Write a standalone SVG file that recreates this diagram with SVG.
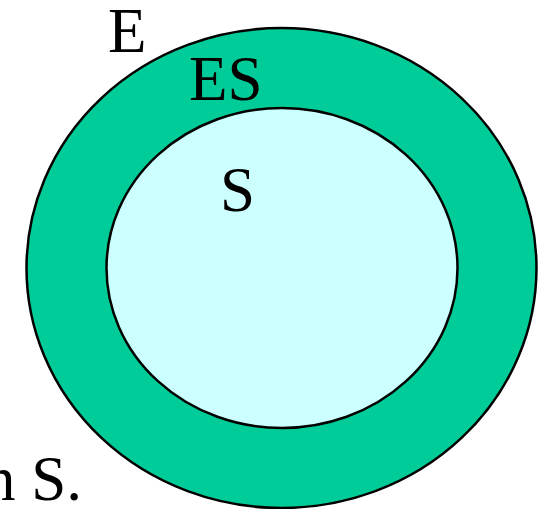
<svg xmlns="http://www.w3.org/2000/svg" width="547" height="509" viewBox="0 0 547 509">
<style>
.t{font-family:"Liberation Serif","Times New Roman",serif;font-size:63px;fill:#000}
.e{stroke:#000;stroke-width:2.5}
</style>
<rect width="547" height="509" fill="#fff"/>
<g id="E">
<ellipse class="e" cx="281.5" cy="268" rx="255" ry="240" fill="#00CC99"/>
<text class="t" x="108" y="52">E</text>
</g>
<g id="ES">
<text class="t" x="189" y="100">ES</text>
</g>
<g id="S">
<ellipse class="e" cx="282" cy="268" rx="175.5" ry="160" fill="#CCFFFF"/>
<text class="t" x="220" y="211">S</text>
</g>
<g id="caption">
<text class="t" x="-16" y="500">n S.</text>
</g>
<g id="connectors"></g>
</svg>
